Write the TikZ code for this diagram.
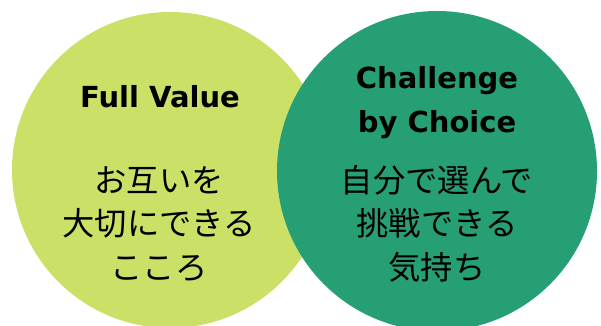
\documentclass[tikz,border=0pt]{standalone}
\usepackage{fontspec}
\setmainfont{DejaVu Sans}
\newfontfamily\jpfont{Noto Sans CJK JP}
\definecolor{lightgreen}{HTML}{CBE066}
\definecolor{darkgreen}{HTML}{269F74}
\definecolor{inktext}{HTML}{000000}
\begin{document}
\begin{tikzpicture}[x=1pt,y=1pt,
  title/.style={font=\fontsize{29}{30}\selectfont\bfseries, text=inktext, anchor=base, inner sep=0pt},
  jtext/.style={font=\jpfont\fontsize{32.3}{33}\selectfont, text=inktext, anchor=base, inner sep=0pt}]
\useasboundingbox (0,0) rectangle (601,325);
\clip (0,0) rectangle (601,325);
\fill[lightgreen] (170,155) circle[radius=158];
\fill[darkgreen] (437,154) circle[radius=160];
\node[title] (fv) at (160,218) {Full Value};
\node[jtext] (l1) at (159,133) {お互いを};
\node[jtext] (l2) at (159,90) {大切にできる};
\node[jtext] (l3) at (159,46) {こころ};
\node[title] (c1) at (437,237) {Challenge};
\node[title] (c2) at (437,193) {by Choice};
\node[jtext] (r1) at (437,133) {自分で選んで};
\node[jtext] (r2) at (437,90) {挑戦できる};
\node[jtext] (r3) at (437,46) {気持ち};
\end{tikzpicture}
\end{document}
